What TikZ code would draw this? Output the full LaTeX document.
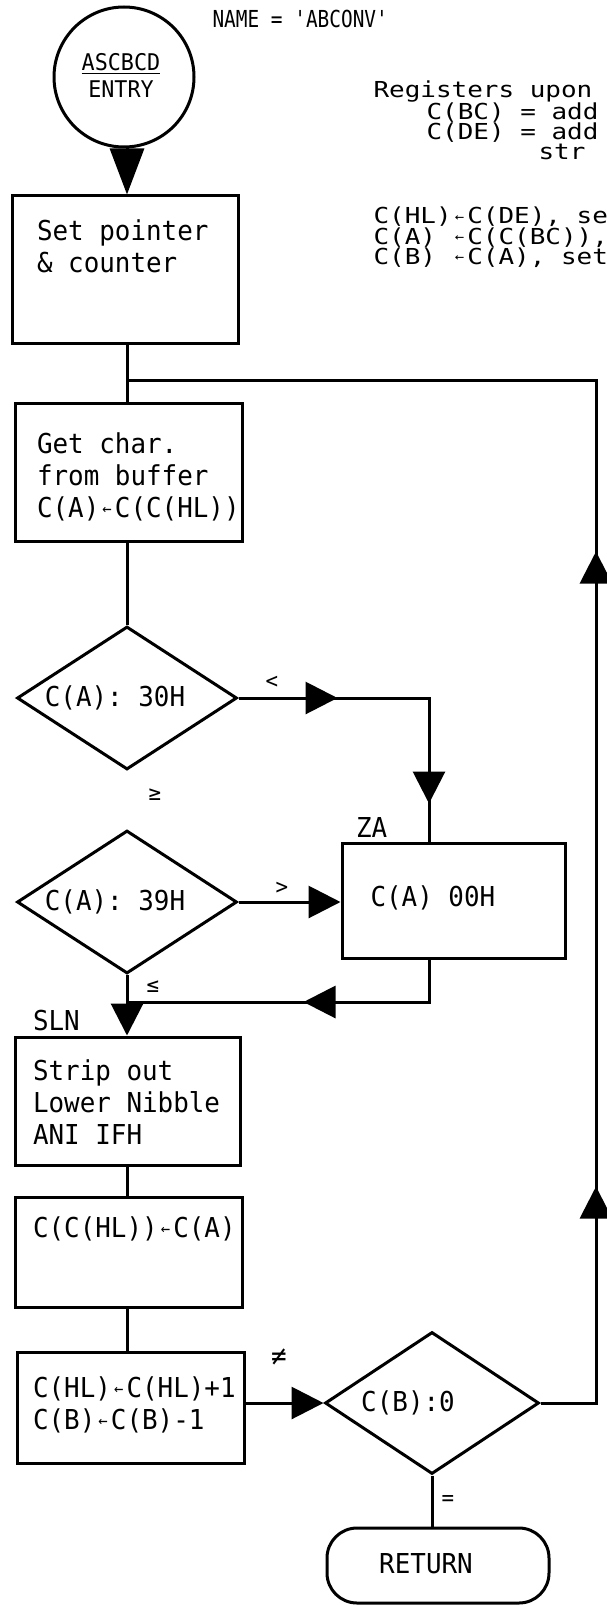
\documentclass[tikz,border=0pt]{standalone}
\usepackage{fontspec}
\usepackage{graphicx}
\newfontfamily\tw[FakeStretch=0.945]{DejaVu Sans Mono}
\newfontfamily\twr[FakeStretch=1.18]{DejaVu Sans Mono}
\newfontfamily\twn[FakeStretch=0.83]{DejaVu Sans Mono}
\usetikzlibrary{arrows.meta,shapes.geometric,decorations.markings}
\newcommand\bxf{\tw\fontsize{13.7pt}{16pt}\selectfont}
\newcommand\rtf{\twr\fontsize{11pt}{10pt}\selectfont}
\newcommand\nmf{\twn\fontsize{11.7pt}{12pt}\selectfont}
\newcommand\circf{\tw\fontsize{11.5pt}{11.5pt}\selectfont}
\newcommand\lblf{\tw\fontsize{11pt}{11pt}\selectfont}
\newcommand\la{\makebox[\fontcharwd\font`0]{\raisebox{0.1em}{\scalebox{0.6}{←}}}}
\begin{document}
\begin{tikzpicture}[x=0.5pt,y=-0.5pt, line width=1.5pt,
  tri/.tip={Triangle[width=16pt,length=16pt]},
  bigtri/.tip={Triangle[width=17pt,length=23pt]},
  box/.style={draw, rectangle, inner sep=0pt},
  dia/.style={draw, diamond, inner sep=0pt},
  dtxt/.style={inner sep=0pt, font=\bxf},
  txt/.style={anchor=north west, inner sep=0pt, align=left, font=\bxf},
  rt/.style={anchor=base west, inner sep=0pt, font=\rtf},
  lbl/.style={inner sep=0pt, font=\lblf},
  marktwo/.style 2 args={postaction={decorate}, decoration={markings,
      mark=at position #1 with {\arrow{tri}},
      mark=at position #2 with {\arrow{tri}}}},
  markone/.style={postaction={decorate}, decoration={markings,
      mark=at position #1 with {\arrow{tri}}}}]
\path[use as bounding box, fill=white] (0,0) rectangle (606,1605);

% header and register notes
\node[rt, font=\nmf] (nm) at (211,28) {NAME = 'ABCONV'};
\node[rt] (r1) at (372,98) {Registers upon};
\node[rt] (r2) at (425,120) {C(BC) = add};
\node[rt] (r3) at (425,140) {C(DE) = add};
\node[rt] (r4) at (537,160) {str};
\node[rt] (r5) at (372,224) {C(HL)\la C(DE), se};
\node[rt] (r6) at (372,244) {C(A) \la C(C(BC)),};
\node[rt] (r7) at (372,264) {C(B) \la C(A), set};

% entry
\node[circle, draw, minimum size=70pt, inner sep=0pt] (entry) at (124,77) {};
\node[inner sep=0pt, align=center, font=\circf] (entryt) at (121,75) {\underline{ASCBCD}\\[2pt]ENTRY};

\node[box, minimum width=113pt, minimum height=73.5pt] (b1) at (125,269.5) {};
\node[txt] (t1) at ([shift={(25,23)}]b1.north west) {\rule{0pt}{10.5pt}Set pointer\\\& counter};

\coordinate (j) at (127,380);
\coordinate (rj) at (596,380);

\node[box, minimum width=113.5pt, minimum height=69pt] (b2) at (128.5,472) {};
\node[txt] (t2) at ([shift={(22,29)}]b2.north west) {\rule{0pt}{10.5pt}Get char.\\from buffer\\C(A)\la C(C(HL))};

\node[dia, minimum width=110pt, minimum height=71.5pt] (d1) at (127,698) {};
\node[dtxt] (d1t) at ([xshift=-6]d1.center) {C(A): 30H};

\node[box, minimum width=111.5pt, minimum height=57.5pt] (za) at (453.5,900.5) {};
\node[rt, font=\bxf] (zat) at (369,906) {C(A) 00H};
\node[lbl, anchor=south west, font=\bxf] (zal) at ([shift={(14,-3)}]za.north west) {ZA};

\node[dia, minimum width=110pt, minimum height=71.5pt] (d2) at (127,902) {};
\node[dtxt] (d2t) at ([xshift=-6]d2.center) {C(A): 39H};

\node[box, minimum width=112.5pt, minimum height=64pt] (b3) at (127.5,1101) {};
\node[txt] (t3) at ([shift={(18,22)}]b3.north west) {\rule{0pt}{10.5pt}Strip out\\Lower Nibble\\ANI IFH};
\node[lbl, anchor=south west, font=\bxf] (sln) at ([shift={(18,-3)}]b3.north west) {SLN};

\node[box, minimum width=113.5pt, minimum height=55pt] (b4) at (128.5,1252) {};
\node[txt] (t4) at ([shift={(18,19)}]b4.north west) {\rule{0pt}{10.5pt}C(C(HL))\la C(A)};

\node[box, minimum width=113.5pt, minimum height=55.5pt] (b5) at (130.5,1407.5) {};
\node[txt] (t5) at ([shift={(16,24)}]b5.north west) {\rule{0pt}{10.5pt}C(HL)\la C(HL)+1\\C(B)\la C(B)-1};

\node[dia, minimum width=107pt, minimum height=71pt] (d3) at (432,1403) {};
\node[dtxt] (d3t) at ([xshift=-12]d3.center) {C(B):0};

\node[draw, rectangle, rounded corners=15pt, minimum width=111pt, minimum height=37.5pt, inner sep=0pt] (ret) at (438,1565.5) {};
\node[dtxt] (rett) at (426,1564) {RETURN};

% bend points
\coordinate (c1) at (429,698);
\coordinate (c2) at (429,1002);
\coordinate (c3) at (127,1002);
\coordinate (c4) at (596,1403);

% connectors
\draw[-bigtri] (entry.south -| j) -- (j |- b1.north);
\draw (j |- b1.south) -- (j) -- (j |- b2.north);
\draw (j |- b2.south) -- (d1.north);
\draw[marktwo={49.5pt}{148pt}] (d1.east) -- (c1) -- (c1 |- za.north);
\draw[-tri] (d2.east) -- (d2.east -| za.west);
\draw[markone=84pt] (c2 |- za.south) -- (c2) -- (c3);
\draw[-tri] (d2.south) -- (d2.south |- b3.north);
\draw (d2.south |- b3.south) -- (d2.south |- b4.north);
\draw (d2.south |- b4.south) -- (d2.south |- b5.north);
\draw[-tri] (d3.west -| b5.east) -- (d3.west);
\draw[marktwo={136pt}{453.5pt}] (d3.east) -- (c4) -- (rj) -- (j);
\draw (d3.south) -- (d3.south |- ret.north);

% branch labels
\node[lbl] (l1) at (272,682) {<};
\node[lbl] (l2) at (155,795) {≥};
\node[lbl] (l3) at (282,888) {>};
\node[lbl] (l4) at (153,987) {≤};
\node[lbl, font=\bxf] (l5) at (279,1357) {≠};
\node[lbl] (l6) at (448,1500) {=};
\end{tikzpicture}
\end{document}
